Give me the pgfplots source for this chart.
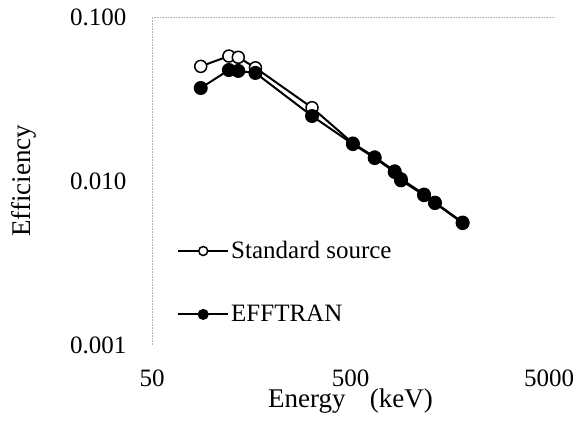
\documentclass[border=0pt]{standalone}
\usepackage{fontspec}
\setmainfont{Liberation Serif}
\usepackage{pgfplots}
\pgfplotsset{compat=1.18}
\begin{document}
\begin{tikzpicture}
\begin{axis}[
  scale only axis,
  width=397pt, height=328pt,
  xmode=log, ymode=log,
  xmin=50, xmax=5000, ymin=0.001, ymax=0.1,
  xtick={50,500,5000}, xticklabels={50,500,5000},
  ytick={0.001,0.01,0.1}, yticklabels={0.001,0.010,0.100},
  minor tick num=0,
  log ticks with fixed point,
  major tick length=0pt, minor tick length=0pt,
  axis line style={draw=none},
  /pgf/number format/assume math mode=true,
  tick label style={font=\fontsize{25}{29}\selectfont},
  yticklabel style={anchor=east, xshift=-22pt},
  xticklabel style={anchor=north, yshift=-21pt},
  xlabel={Energy\hspace{0.9em}(keV)},
  ylabel={Efficiency},
  label style={font=\fontsize{27}{31}\selectfont},
  xlabel style={at={(rel axis cs:0.5,0)}, anchor=base, yshift=-62pt},
  ylabel style={at={(rel axis cs:0,0.5)}, anchor=base, yshift=122pt},
  legend style={draw=none, fill=none, inner sep=0pt,
    at={(rel axis cs:0.063,0.322)}, anchor=north west,
    font=\fontsize{25}{29}\selectfont,
    row sep=41pt,
    /tikz/every even column/.append style={column sep=2pt}},
  legend cell align=left,
  legend image code/.code={\draw[mark repeat=2,mark phase=2, mark size=4.5pt] plot coordinates {(0pt,0pt) (25pt,0pt) (50pt,0pt)};},
  clip=false,
]
\draw[gray!60, densely dotted, line width=0.6pt] (rel axis cs:0,0) -- (rel axis cs:0,1) -- (rel axis cs:1.015,1);
\addplot[black, line width=2pt, mark=*, mark options={fill=white, line width=1.5pt}, mark size=6pt]
coordinates {
(88,0.0500) (122,0.0578) (136,0.0568) (166,0.0490) (320,0.0280) (514,0.0170)
(662,0.0140) (835,0.0115) (898,0.0103) (1173,0.0083) (1332,0.0074) (1836,0.0056)
};
\addlegendentry{Standard source}
\addplot[black, line width=2pt, mark=*, mark options={fill=black}, mark size=6pt]
coordinates {
(88,0.0369) (122,0.0475) (136,0.0469) (166,0.0456) (320,0.0249) (514,0.0168)
(662,0.0138) (835,0.01135) (898,0.0101) (1173,0.0082) (1332,0.00734) (1836,0.00554)
};
\addlegendentry{EFFTRAN}
\end{axis}
\pgfresetboundingbox
\path (-152pt,-76pt) rectangle (435pt,345pt);
\end{tikzpicture}
\end{document}
